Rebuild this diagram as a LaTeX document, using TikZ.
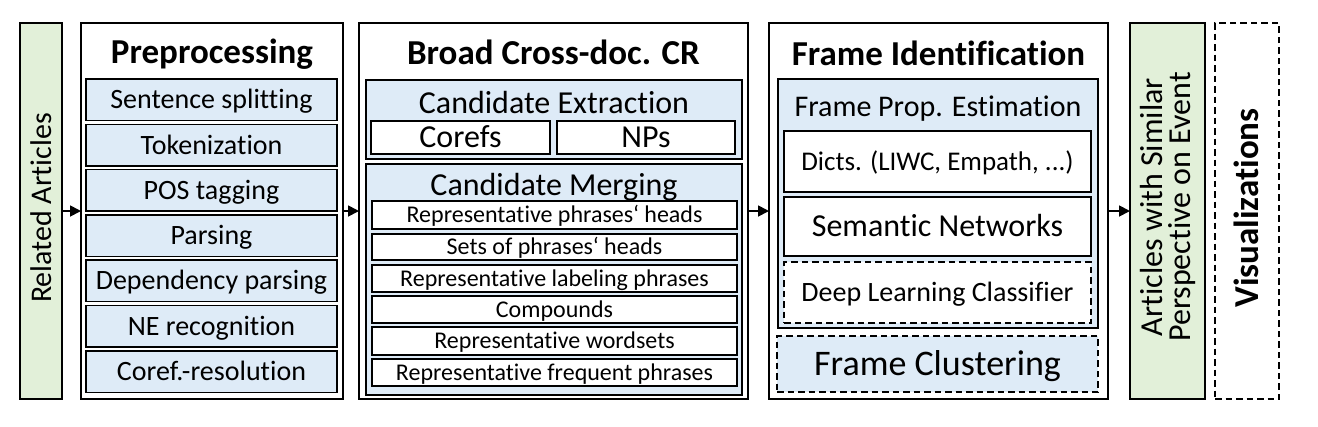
\documentclass[tikz,border=0pt]{standalone}
\usepackage{fontspec}
\setmainfont{Carlito}[Ligatures=NoCommon]
\usetikzlibrary{arrows.meta}
\definecolor{boxblue}{HTML}{DEEBF7}
\definecolor{boxgreen}{HTML}{E2F0D9}
\newcommand\mybox[7]{\node[#6, minimum width={(#4)-(#2)}, minimum height={(#5)-(#3)}] (#1) at ({((#2)+(#4))/2},{((#3)+(#5))/2}) {#7};}
\tikzset{
  fs/.style={font=\fontsize{#1pt}{#1pt}\selectfont, text height={0.64*#1pt}, text depth=0pt},
  outer/.style={draw=black, line width=1.8pt, fill=white},
  gbox/.style={draw=black, line width=1.8pt, fill=boxgreen},
  bbox/.style={draw=black, line width=1.5pt, fill=boxblue},
  wbox/.style={draw=black, line width=1.5pt, fill=white},
  dashbox/.style={dash pattern=on 6.5pt off 4pt},
  arr/.style={line width=1.8pt, -{Triangle[length=11pt,width=11pt]}},
}
\begin{document}
\begin{tikzpicture}[x=1pt,y=-1pt, every node/.style={inner sep=0pt, outer sep=0pt}]
\useasboundingbox (0,0) rectangle (1318,426);
% Related articles
\mybox{ra}{20}{23}{62}{399}{gbox}{}
\node[fs=30, rotate=90] (ratxt) at (42,208) {Related Articles};
% Preprocessing
\mybox{pre}{81}{23}{343}{399}{outer}{}
\node[fs=35] (pret) at (212,52.5) {\bfseries Preprocessing};
\mybox{p1}{86}{79.0}{337}{120.5}{bbox,fs=28}{Sentence splitting}
\mybox{p2}{86}{124.3}{337}{165.8}{bbox,fs=28}{Tokenization}
\mybox{p3}{86}{169.6}{337}{211.1}{bbox,fs=28}{POS tagging}
\mybox{p4}{86}{214.9}{337}{256.4}{bbox,fs=28}{Parsing}
\mybox{p5}{86}{260.2}{337}{301.7}{bbox,fs=28}{Dependency parsing}
\mybox{p6}{86}{305.5}{337}{347.0}{bbox,fs=28}{NE recognition}
\mybox{p7}{86}{350.8}{337}{392.3}{bbox,fs=28}{Coref.-resolution}
% Broad cross-doc CR
\mybox{cr}{359}{23}{748}{399}{outer}{}
\node[fs=35] (crt) at (553.5,53) {\bfseries Broad Cross-doc. CR};
\mybox{ce}{366}{80}{742}{159}{bbox}{}
\node[fs=32] (cet) at (554,103.5) {Candidate Extraction};
\mybox{c1}{371}{121}{550}{154}{wbox,fs=32}{Corefs}
\mybox{c2}{557}{121}{735}{154}{wbox,fs=32}{NPs}
\mybox{cm}{366}{164}{742}{395}{bbox}{}
\node[fs=32] (cmt) at (554,185) {Candidate Merging};
\mybox{m1}{372}{201}{737}{229}{wbox,fs=24}{Representative phrases‘ heads}
\mybox{m2}{372}{234}{737}{260}{wbox,fs=24}{Sets of phrases‘ heads}
\mybox{m3}{372}{265}{737}{292}{wbox,fs=24}{Representative labeling phrases}
\mybox{m4}{372}{296}{737}{323}{wbox,fs=24}{Compounds}
\mybox{m5}{372}{327}{737}{355}{wbox,fs=24}{Representative wordsets}
\mybox{m6}{372}{359}{737}{386}{wbox,fs=24}{Representative frequent phrases}
% Frame identification
\mybox{fi}{769}{23}{1108}{399}{outer}{}
\node[fs=35] (fit) at (938.5,54) {\bfseries Frame Identification};
\mybox{fp}{778}{79}{1098}{328}{bbox}{}
\node[fs=30] (fpt) at (938,106.5) {Frame Prop. Estimation};
\mybox{f1}{784}{131}{1091}{192}{wbox,fs=27}{Dicts. (LIWC, Empath, ...)}
\mybox{f2}{784}{197}{1091}{256}{wbox,fs=32}{Semantic Networks}
\mybox{f3}{784}{262}{1091}{323}{wbox,dashbox,fs=28}{Deep Learning Classifier}
\mybox{fc}{777}{336}{1098}{392}{bbox,dashbox,fs=36}{Frame Clustering}
% Result articles
\mybox{art}{1130}{23}{1205}{399}{gbox}{}
\node[font=\fontsize{32pt}{28pt}\selectfont, align=center, rotate=90] (arttxt) at (1168,207) {Articles with Similar\\Perspective on Event};
% Visualizations
\mybox{vis}{1215}{23}{1279}{399}{draw=black, line width=1.8pt, dashbox}{}
\node[fs=35, rotate=90] (vist) at (1247,208) {\bfseries Visualizations};
% arrows
\draw[arr] (ra.east) -- (pre.west);
\draw[arr] (pre.east) -- (cr.west);
\draw[arr] (cr.east) -- (fi.west);
\draw[arr] (fi.east) -- (art.west);
\end{tikzpicture}
\end{document}
